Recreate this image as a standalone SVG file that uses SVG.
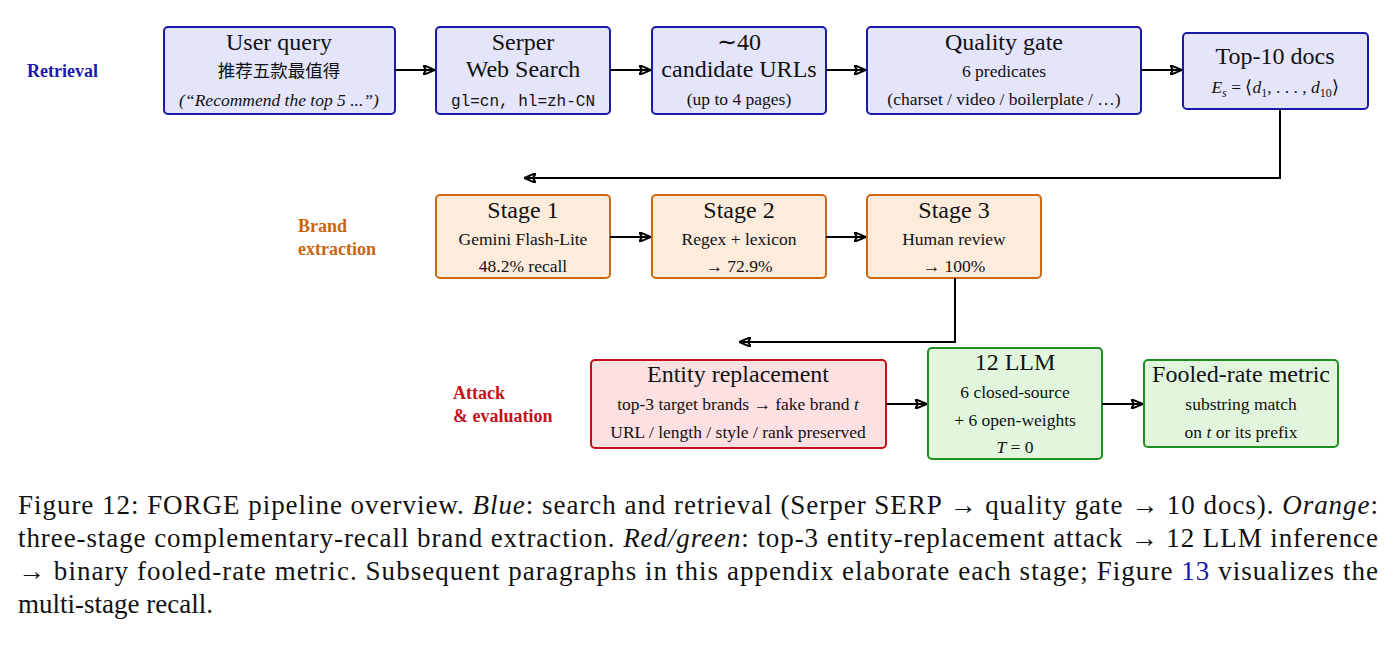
<svg xmlns="http://www.w3.org/2000/svg" width="1396" height="646" viewBox="0 0 1396 646">
<style>
text{font-family:"Liberation Serif",serif;fill:#111}
.c{text-anchor:middle}
.t{font-size:24px}
.s{font-size:17.5px}
.m{font-family:"Liberation Mono",monospace;font-size:16px}
.b{fill:#e4e4fb;stroke:#1a1aa8;stroke-width:2}
.o{fill:#fdebdc;stroke:#cc6a14;stroke-width:2}
.r{fill:#fde0e2;stroke:#c4121c;stroke-width:2}
.g{fill:#e2f6de;stroke:#1f8f1f;stroke-width:2}
.lab{font-weight:bold;font-size:18px}
.cap{font-size:27px}
line,path{stroke:#000;stroke-width:2;fill:none}
</style>
<defs><marker id="a" markerWidth="12" markerHeight="10" refX="11" refY="5" orient="auto" markerUnits="userSpaceOnUse"><path d="M0,0 L12,5 L0,10 L3,5Z" fill="#000" stroke="none"/></marker></defs>
<text class="lab" x="27" y="77" style="fill:#1a1aa8">Retrieval</text>
<text class="lab" x="298" y="232" style="fill:#c8660f">Brand</text>
<text class="lab" x="298" y="255" style="fill:#c8660f">extraction</text>
<text class="lab" x="453" y="399" style="fill:#c4121c">Attack</text>
<text class="lab" x="453" y="422" style="fill:#c4121c">&amp; evaluation</text>
<g id="n1"><rect class="b" x="164" y="27" width="231" height="87" rx="4"/><text class="c t" x="279" y="50">User query</text><text class="c s" x="279" y="77" style="font-family:'Noto Sans CJK SC',sans-serif">推荐五款最值得</text><text class="c s" x="279" y="106" font-style="italic">(“Recommend the top 5 ...”)</text></g>
<g id="n2"><rect class="b" x="436" y="27" width="174" height="87" rx="4"/><text class="c t" x="523" y="50">Serper</text><text class="c t" x="523" y="77">Web Search</text><text class="c m" x="523" y="106">gl=cn, hl=zh-CN</text></g>
<g id="n3"><rect class="b" x="652" y="27" width="174" height="87" rx="4"/><text class="c t" x="739" y="50">∼40</text><text class="c t" x="739" y="77">candidate URLs</text><text class="c s" x="739" y="105">(up to 4 pages)</text></g>
<g id="n4"><rect class="b" x="867" y="27" width="274" height="87" rx="4"/><text class="c t" x="1004" y="50">Quality gate</text><text class="c s" x="1004" y="77">6 predicates</text><text class="c s" x="1004" y="105">(charset / video / boilerplate / …)</text></g>
<g id="n5"><rect class="b" x="1183" y="33" width="185" height="76" rx="4"/><text class="c t" x="1275" y="64">Top-10 docs</text><text class="c s" x="1275" y="93" font-size="19"><tspan font-style="italic">E</tspan><tspan font-size="12" font-style="italic" dy="4">s</tspan><tspan dy="-4"> = ⟨</tspan><tspan font-style="italic">d</tspan><tspan font-size="12" dy="4">1</tspan><tspan dy="-4">, . . . , </tspan><tspan font-style="italic">d</tspan><tspan font-size="12" dy="4">10</tspan><tspan dy="-4">⟩</tspan></text></g>
<g id="n6"><rect class="o" x="436" y="195" width="174" height="83" rx="4"/><text class="c t" x="523" y="218">Stage 1</text><text class="c s" x="523" y="245">Gemini Flash-Lite</text><text class="c s" x="523" y="272">48.2% recall</text></g>
<g id="n7"><rect class="o" x="652" y="195" width="174" height="83" rx="4"/><text class="c t" x="739" y="218">Stage 2</text><text class="c s" x="739" y="245">Regex + lexicon</text><text class="c s" x="739" y="272">→ 72.9%</text></g>
<g id="n8"><rect class="o" x="867" y="195" width="174" height="83" rx="4"/><text class="c t" x="954" y="218">Stage 3</text><text class="c s" x="954" y="245">Human review</text><text class="c s" x="954" y="272">→ 100%</text></g>
<g id="n9"><rect class="r" x="591" y="360" width="295" height="88" rx="4"/><text class="c t" x="738" y="382">Entity replacement</text><text class="c s" x="738" y="410">top-3 target brands → fake brand <tspan font-style="italic">t</tspan></text><text class="c s" x="738" y="438">URL / length / style / rank preserved</text></g>
<g id="n10"><rect class="g" x="928" y="348" width="174" height="111" rx="4"/><text class="c t" x="1015" y="370">12 LLM</text><text class="c s" x="1015" y="398">6 closed-source</text><text class="c s" x="1015" y="426">+ 6 open-weights</text><text class="c s" x="1015" y="453"><tspan font-style="italic">T</tspan> = 0</text></g>
<g id="n11"><rect class="g" x="1144" y="360" width="194" height="87" rx="4"/><text class="c t" x="1241" y="382">Fooled-rate metric</text><text class="c s" x="1241" y="410">substring match</text><text class="c s" x="1241" y="438">on <tspan font-style="italic">t</tspan> or its prefix</text></g>
<g id="edges">
<line x1="395" y1="70" x2="434" y2="70" marker-end="url(#a)"/>
<line x1="610" y1="70" x2="650" y2="70" marker-end="url(#a)"/>
<line x1="826" y1="70" x2="865" y2="70" marker-end="url(#a)"/>
<line x1="1141" y1="70" x2="1181" y2="70" marker-end="url(#a)"/>
<path d="M1280,109 V178 H525" marker-end="url(#a)"/>
<line x1="610" y1="237" x2="650" y2="237" marker-end="url(#a)"/>
<line x1="826" y1="237" x2="865" y2="237" marker-end="url(#a)"/>
<path d="M955,278 V342 H740" marker-end="url(#a)"/>
<line x1="886" y1="404" x2="926" y2="404" marker-end="url(#a)"/>
<line x1="1102" y1="404" x2="1142" y2="404" marker-end="url(#a)"/>
</g>
<text class="cap" x="18" y="514" textLength="1360" lengthAdjust="spacing">Figure 12: FORGE pipeline overview. <tspan font-style="italic">Blue</tspan>: search and retrieval (Serper SERP → quality gate → 10 docs). <tspan font-style="italic">Orange</tspan>:</text>
<text class="cap" x="18" y="547" textLength="1360" lengthAdjust="spacing">three-stage complementary-recall brand extraction. <tspan font-style="italic">Red/green</tspan>: top-3 entity-replacement attack → 12 LLM inference</text>
<text class="cap" x="18" y="580" textLength="1360" lengthAdjust="spacing">→ binary fooled-rate metric. Subsequent paragraphs in this appendix elaborate each stage; Figure <tspan style="fill:#1a1aa8">13</tspan> visualizes the</text>
<text class="cap" x="18" y="613">multi-stage recall.</text>
</svg>
